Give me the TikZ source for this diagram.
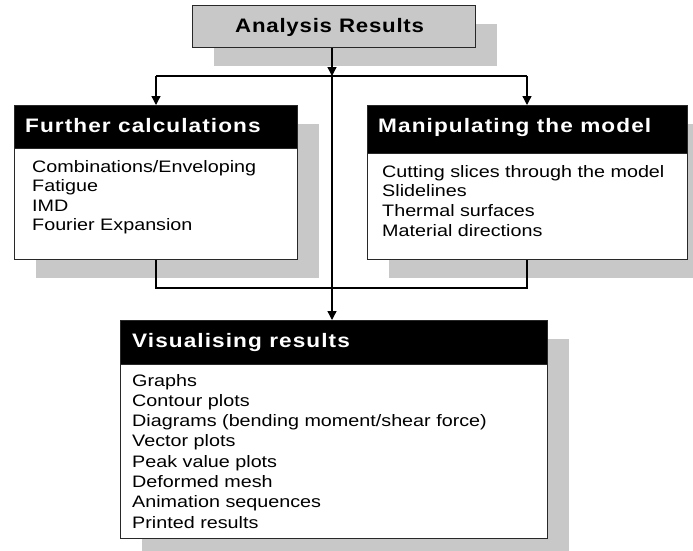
\documentclass[tikz,border=0pt]{standalone}
\usepackage{fontspec}
\setmainfont{Liberation Sans}[FakeStretch=1.16]
\newfontfamily\itemfont{Liberation Sans}[FakeStretch=1.19]
\newfontfamily\headfont{Liberation Sans}[FakeStretch=1.16,LetterSpace=5.5]
\newfontfamily\titlefont{Liberation Sans}[FakeStretch=1.14,LetterSpace=4]
\usetikzlibrary{arrows.meta,shadows}
\definecolor{shadowgray}{RGB}{200,200,200}
\definecolor{titlegray}{RGB}{200,200,200}
\definecolor{edgegray}{RGB}{40,40,40}
\tikzset{
  boxframe/.style={draw=edgegray, line width=1.4pt, fill=white, inner sep=0pt, anchor=north west,
    drop shadow={shadow xshift=21pt, shadow yshift=-18pt, fill=shadowgray, opacity=1}},
  titlebox/.style={boxframe, fill=titlegray},
  headbar/.style={fill=black, draw=edgegray, line width=1.4pt, inner sep=0pt, anchor=north west},
  headtext/.style={anchor=base west, inner sep=0pt, text=white, font=\headfont\bfseries\fontsize{19.5}{22}\selectfont},
  titletext/.style={anchor=base west, inner sep=0pt, text=black, font=\titlefont\bfseries\fontsize{19.5}{22}\selectfont},
  itemtext/.style={anchor=base west, inner sep=0pt, text=black, font=\itemfont\fontsize{16.6}{20}\selectfont},
  conn/.style={line width=1.3pt, draw=black},
  arr/.style={conn, -{Triangle[width=9pt,length=9pt]}}
}
\begin{document}
\begin{tikzpicture}[x=1pt, y=-1pt]
\useasboundingbox (0,0) rectangle (693,550);

% Title box
\node[titlebox, minimum width=283pt, minimum height=42pt] (ar) at (192,5) {};
\node[titletext] (art) at (235,32) {Analysis Results};

% Left box
\node[boxframe, minimum width=283pt, minimum height=154pt] (fc) at (14,105) {};
\node[headbar, minimum width=283pt, minimum height=43pt] (fch) at (14,105) {};
\node[headtext] (fct) at (25,132) {Further calculations};
\foreach \t [count=\i] in {Combinations/Enveloping, Fatigue, IMD, Fourier Expansion}
  \node[itemtext] (fci\i) at (32,{172+19.6*(\i-1)}) {\t};

% Right box
\node[boxframe, minimum width=320pt, minimum height=154pt] (mm) at (367,105) {};
\node[headbar, minimum width=320pt, minimum height=48pt] (mmh) at (367,105) {};
\node[headtext] (mmt) at (378,132) {Manipulating the model};
\foreach \t [count=\i] in {Cutting slices through the model, Slidelines, Thermal surfaces, Material directions}
  \node[itemtext] (mmi\i) at (382,{177+19.7*(\i-1)}) {\t};

% Bottom box
\node[boxframe, minimum width=427pt, minimum height=218pt] (vr) at (120,320) {};
\node[headbar, minimum width=427pt, minimum height=44pt] (vrh) at (120,320) {};
\node[headtext] (vrt) at (132,347) {Visualising results};
\foreach \t [count=\i] in {Graphs, Contour plots, Diagrams (bending moment/shear force), Vector plots, Peak value plots, Deformed mesh, Animation sequences, Printed results}
  \node[itemtext] (vri\i) at (132,{386+20.3*(\i-1)}) {\t};

% Connectors
\coordinate (jc) at (332,76);
\coordinate (jl) at (156,76);
\coordinate (jr) at (527,76);
\coordinate (bl) at (156,288);
\coordinate (br) at (527,288);

\draw[arr] (ar.south -| jc) -- (jc);
\draw[conn] (jl) -- (jr);
\draw[arr] (jl) -- (jl |- fc.north);
\draw[arr] (jr) -- (jr |- mm.north);
\draw[arr] (jc) -- (jc |- vr.north);
\draw[conn] (bl |- fc.south) -- (bl) -- (br) -- (br |- mm.south);
\end{tikzpicture}
\end{document}
